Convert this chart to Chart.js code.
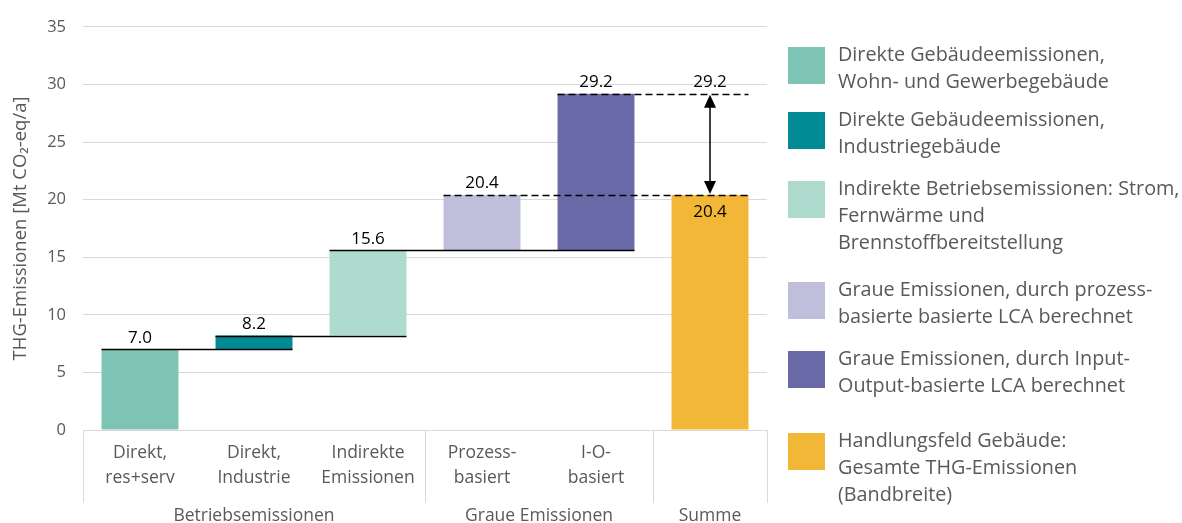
<!DOCTYPE html>
<html>
<head>
<meta charset="utf-8">
<script src="https://cdn.jsdelivr.net/npm/chart.js@4/dist/chart.umd.min.js"></script>
<style>
html,body{margin:0;padding:0;background:#fff;}
#wrap{position:relative;width:1182px;height:523px;}
</style>
</head>
<body>
<div id="wrap"><canvas id="c" width="1182" height="523"></canvas></div>
<script>
// ---- data ----
const categories = [['Direkt,','res+serv'],['Direkt,','Industrie'],['Indirekte','Emissionen'],['Prozess-','basiert'],['I-O-','basiert'],['']];
const groupLabels = ['Betriebsemissionen','Graue Emissionen','Summe'];
const groupSpans = [3,2,1];
const barLow  = [0, 7.0, 8.2, 15.6, 15.6, 0];
const barHigh = [7.0, 8.2, 15.6, 20.4, 29.2, 20.4];
const barColors = ['#7DC4B5','#008B94','#AFDBCE','#BFBFDB','#6B6AA9','#F2B736'];
const yTicks = [0,5,10,15,20,25,30,35];
const yTitle = 'THG-Emissionen [Mt CO\u2082-eq/a]';
const legendTexts = [
  ['Direkte Gebäudeemissionen,','Wohn- und Gewerbegebäude'],
  ['Direkte Gebäudeemissionen,','Industriegebäude'],
  ['Indirekte Betriebsemissionen: Strom,','Fernwärme und','Brennstoffbereitstellung'],
  ['Graue Emissionen, durch prozess-','basierte basierte LCA berechnet'],
  ['Graue Emissionen, durch Input-','Output-basierte LCA berechnet'],
  ['Handlungsfeld Gebäude:','Gesamte THG-Emissionen','(Bandbreite)']
];
// connector lines between bars
const connectors = [
  {v: barHigh[0], from:0, to:1, dashed:false},
  {v: barHigh[1], from:1, to:2, dashed:false},
  {v: barHigh[2], from:2, to:4, dashed:false},
  {v: barHigh[3], from:3, to:5, dashed:true},
  {v: barHigh[4], from:4, to:5, dashed:true}
];

const FONT = '"Open Sans", "Noto Sans", sans-serif';
const GREY = '#595959';

const overlay = {
  id:'overlay',
  afterDatasetsDraw(chart){
    const {ctx, scales:{x,y}} = chart;
    const meta = chart.getDatasetMeta(0);
    const L = i => meta.data[i].x - meta.data[i].width/2;
    const R = i => meta.data[i].x + meta.data[i].width/2;
    ctx.save();
    connectors.forEach(c=>{
      const py = Math.round(y.getPixelForValue(c.v))+0.5;
      ctx.beginPath();
      ctx.setLineDash(c.dashed ? [7,4] : []);
      ctx.lineWidth = 1.6;
      ctx.strokeStyle = '#000';
      ctx.moveTo(L(c.from), py);
      ctx.lineTo(R(c.to), py);
      ctx.stroke();
    });
    ctx.setLineDash([]);
    // arrow in Summe column
    const ax = meta.data[5].x;
    const yTop = y.getPixelForValue(barHigh[4]);
    const yBot = y.getPixelForValue(barHigh[5]);
    const ah = 13, aw = 6;
    ctx.beginPath();
    ctx.lineWidth = 1.5;
    ctx.moveTo(ax, yTop+ah); ctx.lineTo(ax, yBot-ah); ctx.stroke();
    ctx.fillStyle = '#000';
    ctx.beginPath();
    ctx.moveTo(ax, yTop+1); ctx.lineTo(ax-aw, yTop+ah+1); ctx.lineTo(ax+aw, yTop+ah+1); ctx.closePath(); ctx.fill();
    ctx.beginPath();
    ctx.moveTo(ax, yBot-1); ctx.lineTo(ax-aw, yBot-ah-1); ctx.lineTo(ax+aw, yBot-ah-1); ctx.closePath(); ctx.fill();
    // value labels
    ctx.font = '17px ' + FONT;
    ctx.fillStyle = '#000';
    ctx.textAlign = 'center';
    ctx.textBaseline = 'bottom';
    for(let i=0;i<5;i++){
      ctx.fillText(barHigh[i].toFixed(1), meta.data[i].x, y.getPixelForValue(barHigh[i]) - 3);
    }
    ctx.fillText(barHigh[4].toFixed(1), ax, yTop - 3);
    ctx.textBaseline = 'top';
    ctx.fillText(barHigh[5].toFixed(1), ax, yBot + 9);
    ctx.restore();
  },
  afterDraw(chart){
    const {ctx, scales:{x}, chartArea} = chart;
    ctx.save();
    const bottom = chartArea.bottom;
    const step = (chartArea.right - chartArea.left)/categories.length;
    ctx.strokeStyle = '#D9D9D9';
    ctx.lineWidth = 1;
    let idx = 0;
    const bounds = [0];
    groupSpans.forEach(s=>{ idx += s; bounds.push(idx); });
    bounds.forEach(b=>{
      const px = Math.round(chartArea.left + b*step) + 0.5;
      ctx.beginPath(); ctx.moveTo(px, bottom); ctx.lineTo(px, bottom+73); ctx.stroke();
    });
    ctx.font = '17.5px ' + FONT;
    ctx.fillStyle = GREY;
    ctx.textAlign = 'center';
    ctx.textBaseline = 'middle';
    categories.forEach((lab,i)=>{
      const cx = x.getPixelForValue(i);
      lab.forEach((line,k)=>{ ctx.fillText(line, cx, bottom + 23 + k*25); });
    });
    groupLabels.forEach((g,i)=>{
      const cx = chartArea.left + (bounds[i]+bounds[i+1])/2*step;
      ctx.fillText(g, cx, bottom + 86);
    });
    // legend
    const tops = [47,112,181,282,351,433];
    ctx.font = '19.8px ' + FONT;
    ctx.textAlign = 'left';
    legendTexts.forEach((lines,i)=>{
      ctx.fillStyle = barColors[i];
      ctx.fillRect(788, tops[i], 37, 37);
      ctx.fillStyle = GREY;
      lines.forEach((t,k)=>{ ctx.fillText(t, 838, tops[i] + 8 + k*27); });
    });
    ctx.restore();
  }
};

new Chart(document.getElementById('c'), {
  type:'bar',
  data:{
    labels: categories,
    datasets:[{
      data: barLow.map((l,i)=>[l, barHigh[i]]),
      backgroundColor: barColors,
      barPercentage: 0.675,
      categoryPercentage: 1
    }]
  },
  options:{
    responsive:false,
    animation:false,
    devicePixelRatio:1,
    layout:{padding:{left:0,right:415,top:23,bottom:0}},
    plugins:{legend:{display:false}, tooltip:{enabled:false}},
    scales:{
      x:{
        grid:{display:false},
        border:{color:'#D9D9D9', width:1},
        ticks:{display:false},
        afterFit(s){ s.height = 93; }
      },
      y:{
        min:0, max:35,
        afterBuildTicks(s){ s.ticks = yTicks.map(v=>({value:v})); },
        ticks:{font:{size:16.5, family:FONT}, color:GREY, padding:17},
        grid:{color:'#D9D9D9', drawTicks:false, lineWidth:1},
        border:{display:false},
        title:{display:true, text:yTitle, color:GREY, font:{size:18.5, family:FONT}, padding:{top:10,bottom:0}},
        afterFit(s){ s.width = 83; }
      }
    }
  },
  plugins:[overlay]
});
</script>
</body>
</html>
